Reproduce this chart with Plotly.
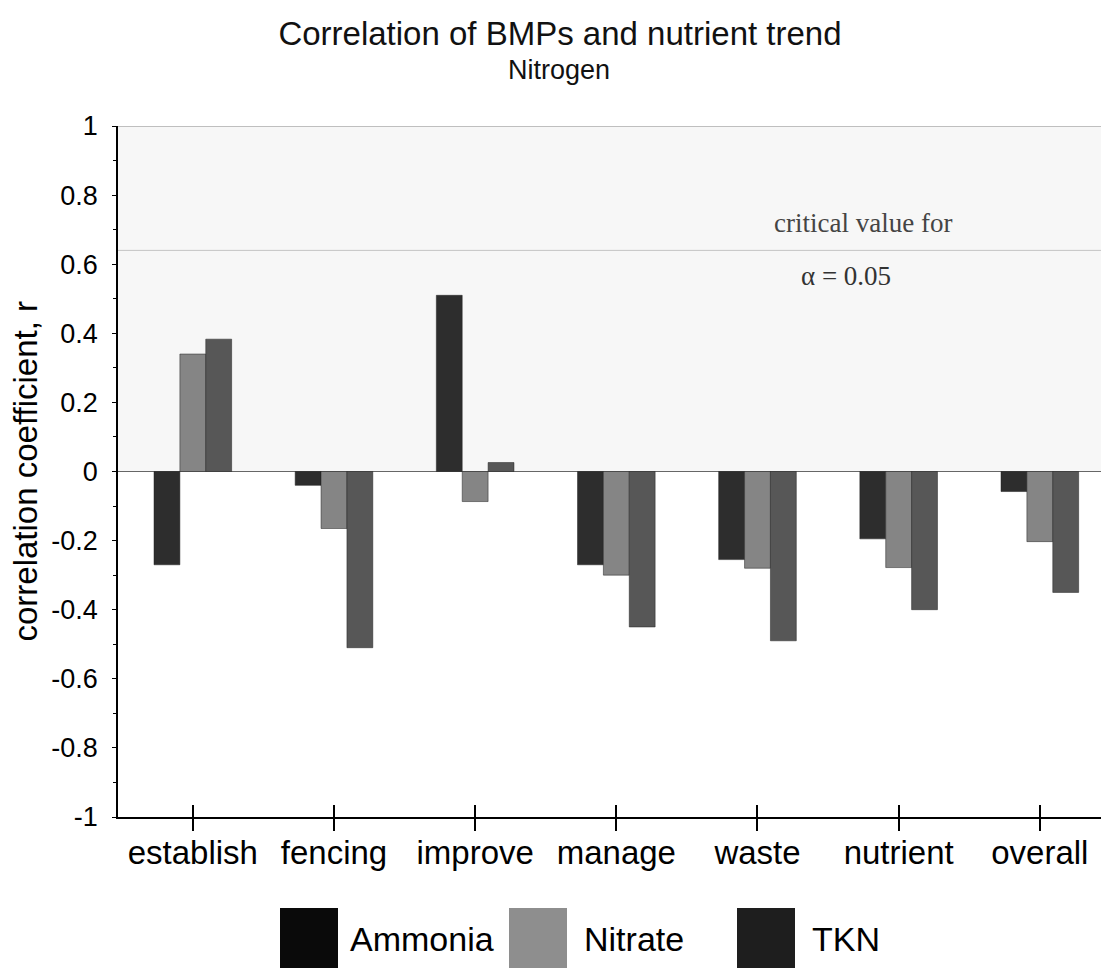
import plotly.graph_objects as go

categories = ["establish", "fencing", "improve", "manage", "waste", "nutrient", "overall"]
ammonia = [-0.27, -0.04, 0.51, -0.27, -0.255, -0.195, -0.058]
nitrate = [0.34, -0.165, -0.087, -0.30, -0.28, -0.278, -0.203]
tkn = [0.383, -0.51, 0.026, -0.45, -0.49, -0.40, -0.35]
series_names = ["Ammonia", "Nitrate", "TKN"]
series_colors = ["#2d2d2d", "#858585", "#575757"]
legend_colors = ["#0a0a0a", "#8e8e8e", "#1e1e1e"]
critical_value = 0.64
y_ticks = [1, 0.8, 0.6, 0.4, 0.2, 0, -0.2, -0.4, -0.6, -0.8, -1]
y_tick_labels = ["1", "0.8", "0.6", "0.4", "0.2", "0", "-0.2", "-0.4", "-0.6", "-0.8", "-1"]

SANS = "Liberation Sans, Arial, sans-serif"
SERIF = "Liberation Serif, Times New Roman, serif"

W, H = 1101, 961
pl, pr, pt, pb = 110, 0, 118, 152
pw, ph = W - pl - pr, H - pt - pb
X_RANGE = [-0.53, 6.49]


def px_x(x):
    return (x - pl) / pw


def px_y(y):
    return (H - pb - y) / ph


fig = go.Figure()
for name, vals, col in zip(series_names, [ammonia, nitrate, tkn], series_colors):
    fig.add_trace(go.Bar(x=categories, y=vals, name=name,
                         marker=dict(color=col, line=dict(color="#222222", width=0.5)),
                         showlegend=False))
# helper axis for the inner half of the crossing x ticks
fig.add_trace(go.Scatter(x=[], y=[], xaxis="x2", yaxis="y", showlegend=False, hoverinfo="skip"))

# light shaded upper region
fig.add_shape(type="rect", xref="paper", yref="y", x0=0, x1=1, y0=0, y1=1,
              fillcolor="#f7f7f7", line=dict(width=0), layer="below")
fig.add_shape(type="line", xref="paper", yref="y", x0=0, x1=1, y0=1, y1=1,
              line=dict(color="#888888", width=1))
fig.add_shape(type="line", xref="paper", yref="y", x0=0, x1=1, y0=0, y1=0,
              line=dict(color="#666666", width=1), layer="below")
fig.add_shape(type="line", xref="paper", yref="y", x0=0, x1=1, y0=critical_value, y1=critical_value,
              line=dict(color="#c4c4c4", width=1), layer="below")

fig.add_annotation(x=px_x(855), xref="paper", y=0.72, yref="y", text="critical value for",
                   showarrow=False, xanchor="center", yanchor="middle",
                   font=dict(family=SERIF, size=27, color="#444444"))
fig.add_annotation(x=px_x(838), xref="paper", y=0.565, yref="y", text="α = 0.05",
                   showarrow=False, xanchor="center", yanchor="middle",
                   font=dict(family=SERIF, size=27, color="#333333"))

# subtitle
fig.add_annotation(x=px_x(551), xref="paper", y=px_y(62), yref="paper", text="Nitrogen",
                   showarrow=False, xanchor="center", yanchor="middle",
                   font=dict(family=SANS, size=27, color="#111111"))

# y axis title
fig.add_annotation(x=px_x(17), xref="paper", y=0.5, yref="paper",
                   text="correlation coefficient, r", textangle=-90, showarrow=False,
                   xanchor="center", yanchor="middle",
                   font=dict(family=SANS, size=33, color="#000000"))

# custom legend
leg_items = [(272, 340, "Ammonia"), (501, 574, "Nitrate"), (729, 802, "TKN")]
for (x0, tx, name), col in zip(leg_items, legend_colors):
    fig.add_shape(type="rect", xref="paper", yref="paper",
                  x0=px_x(x0), x1=px_x(x0 + 58), y0=px_y(900), y1=px_y(960),
                  fillcolor=col, line=dict(width=0))
    fig.add_annotation(x=px_x(tx), xref="paper", y=px_y(931), yref="paper", text=name,
                       showarrow=False, xanchor="left", yanchor="middle",
                       font=dict(family=SANS, size=34, color="#000000"))

fig.update_layout(
    width=W, height=H,
    margin=dict(l=pl, r=pr, t=pt, b=pb),
    paper_bgcolor="white", plot_bgcolor="white",
    barmode="group", bargap=0.45, bargroupgap=0,
    title=dict(text="Correlation of BMPs and nutrient trend",
               x=552 / W, xanchor="center", y=1 - 25 / H, yanchor="middle",
               font=dict(family=SANS, size=33, color="#111111")),
    font=dict(family=SANS, color="#000000"),
    xaxis=dict(showline=True, linecolor="black", linewidth=1.5, ticks="outside", ticklen=12,
               tickcolor="black", tickwidth=1.5, ticklabelstandoff=-6,
               tickfont=dict(family=SANS, size=33, color="#000000"),
               showgrid=False, range=X_RANGE),
    xaxis2=dict(overlaying="x", anchor="y", side="bottom", range=X_RANGE,
                tickvals=[0, 1, 2, 3, 4, 5, 6], ticks="inside", ticklen=12, tickwidth=1.5,
                tickcolor="black", showticklabels=False, showgrid=False, showline=False,
                zeroline=False),
)
fig.update_yaxes(range=[-1, 1], tickvals=y_ticks, ticktext=y_tick_labels, showline=True,
                 linecolor="black", linewidth=1.5, ticks="outside", ticklen=4, tickcolor="black",
                 minor=dict(dtick=0.1, ticks="outside", ticklen=3, tickcolor="black"),
                 ticklabelstandoff=9,
                 tickfont=dict(family=SANS, size=27, color="#000000"), showgrid=False, zeroline=False)

fig.write_html("out.html")
